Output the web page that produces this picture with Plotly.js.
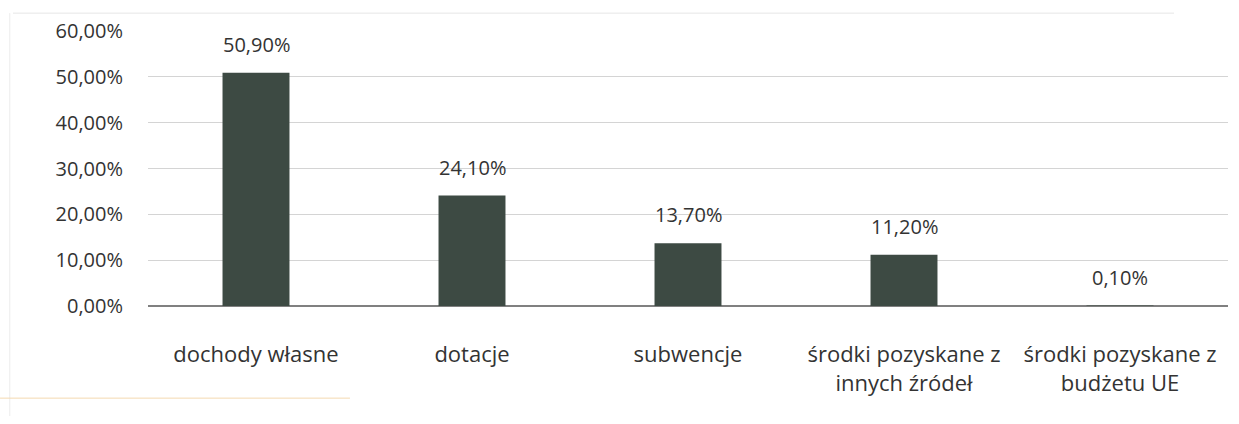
<!DOCTYPE html>
<html><head><meta charset="utf-8">
<script src="https://cdn.plot.ly/plotly-3.0.1.min.js"></script>
<style>html,body{margin:0;padding:0;background:#fff;}#chart{width:1239px;height:424px;}</style>
</head><body><div id="chart"></div>
<script>
const categories = ["dochody własne", "dotacje", "subwencje", "środki pozyskane z<br>innych źródeł", "środki pozyskane z<br>budżetu UE"];
const values = [50.9, 24.1, 13.7, 11.2, 0.1];
const yTicks = [0, 10, 20, 30, 40, 50, 60];

const fmt = v => v.toFixed(2).replace('.', ',') + '%';
const fontFam = "'Open Sans', 'Noto Sans', sans-serif";
const trace = {
  type: 'bar', x: categories, y: values,
  marker: {color: '#3d4a43', line: {width: 0}},
  width: 0.31,
  hoverinfo: 'none'
};
const annotations = values.map((v, i) => ({
  x: categories[i], y: v, xref: 'x', yref: 'y',
  text: fmt(v), showarrow: false, yanchor: 'bottom', yshift: 13,
  font: {family: fontFam, size: 20, color: '#333'}
}));
const layout = {
  width: 1239, height: 424,
  margin: {l: 148, r: 11, t: 31, b: 118},
  paper_bgcolor: '#fff', plot_bgcolor: '#fff',
  showlegend: false,
  font: {family: fontFam, size: 20, color: '#333'},
  xaxis: {
    type: 'category', showgrid: false, zeroline: false,
    showline: false, ticks: 'outside', ticklen: 29, tickcolor: 'rgba(0,0,0,0)',
    tickfont: {family: fontFam, size: 22, color: '#333'}
  },
  yaxis: {
    range: [0, 60], tickvals: yTicks, ticktext: yTicks.map(fmt),
    showgrid: true, gridcolor: '#d4d4d4', gridwidth: 1,
    zeroline: true, zerolinecolor: '#808080', zerolinewidth: 1.5,
    ticks: 'outside', ticklen: 20, tickcolor: 'rgba(0,0,0,0)',
    tickfont: {family: fontFam, size: 20, color: '#333'}
  },
  annotations: annotations,
  shapes: [
    {type: 'line', xref: 'paper', yref: 'paper', x0: -0.125, x1: 0.95, y0: 1.065, y1: 1.065, line: {color: '#e6e6e6', width: 1}},
    {type: 'line', xref: 'paper', yref: 'paper', x0: -0.128, x1: -0.128, y0: 1.065, y1: -0.4, line: {color: '#ececec', width: 1}},
    {type: 'line', xref: 'paper', yref: 'paper', x0: -0.137, x1: 0.187, y0: -0.335, y1: -0.335, line: {color: '#f4d9b0', width: 1}}
  ]
};
Plotly.newPlot('chart', [trace], layout, {staticPlot: true});
</script></body></html>
